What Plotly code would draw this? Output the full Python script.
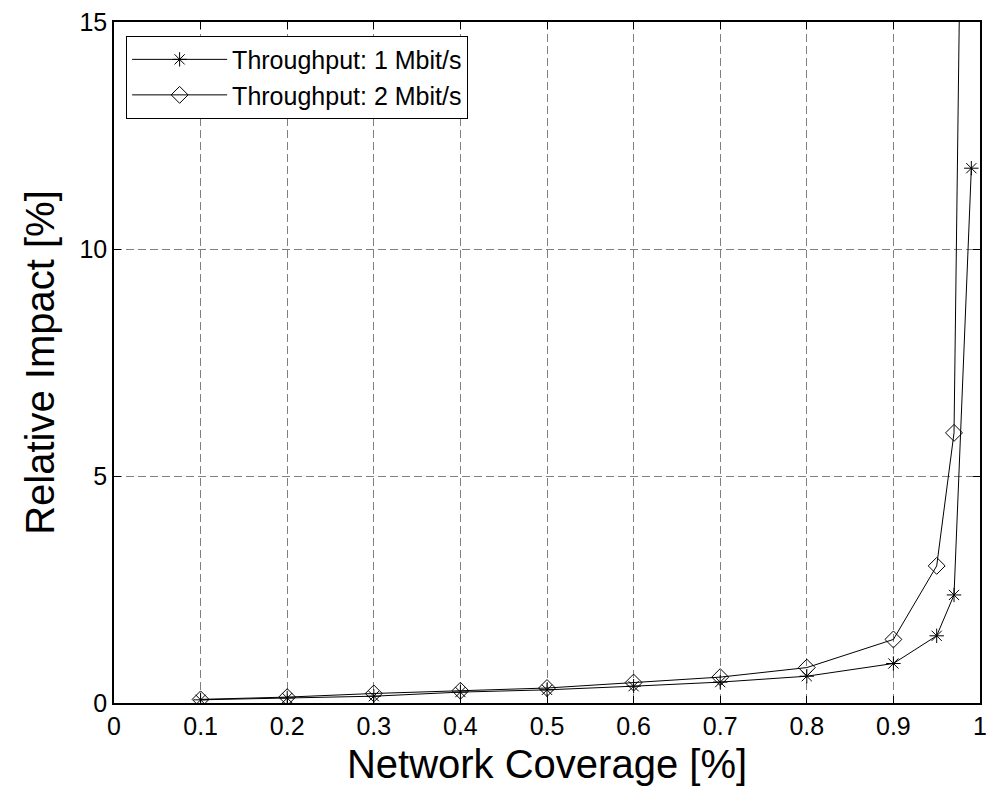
import plotly.graph_objects as go

coverage_1 = [0.1, 0.2, 0.3, 0.4, 0.5, 0.6, 0.7, 0.8, 0.9, 0.95, 0.97, 0.99]
impact_1 = [0.07, 0.11, 0.15, 0.24, 0.29, 0.37, 0.46, 0.59, 0.87, 1.48, 2.38, 11.78]

coverage_2 = [0.1, 0.2, 0.3, 0.4, 0.5, 0.6, 0.7, 0.8, 0.9, 0.95, 0.97, 0.99]
impact_2 = [0.08, 0.13, 0.21, 0.27, 0.33, 0.45, 0.57, 0.78, 1.40, 3.02, 5.95, 36.0]

x_ticks = [0, 0.1, 0.2, 0.3, 0.4, 0.5, 0.6, 0.7, 0.8, 0.9, 1]
x_tick_labels = ["0", "0.1", "0.2", "0.3", "0.4", "0.5", "0.6", "0.7", "0.8", "0.9", "1"]
y_ticks = [0, 5, 10, 15]
y_tick_labels = ["0", "5", "10", "15"]

FONT = "Liberation Sans, Arial, sans-serif"

fig = go.Figure()
fig.add_trace(go.Scatter(
    x=coverage_1, y=impact_1, mode="lines+markers",
    name="Throughput: 1 Mbit/s",
    line=dict(color="black", width=1),
    marker=dict(symbol="asterisk-open", size=12, color="black",
                line=dict(color="black", width=1)),
))
fig.add_trace(go.Scatter(
    x=coverage_2, y=impact_2, mode="lines+markers",
    name="Throughput: 2 Mbit/s",
    line=dict(color="black", width=1),
    marker=dict(symbol="diamond-open", size=13, color="black",
                line=dict(color="black", width=1)),
))

axis_common = dict(
    showline=True, linecolor="black", linewidth=1.5, mirror="ticks",
    ticks="inside", ticklen=7, tickcolor="black", tickwidth=1,
    showgrid=True, gridcolor="#808080", gridwidth=1, griddash="8px,4px",
    zeroline=False, ticklabeloverflow="allow",
    tickfont=dict(family=FONT, size=25, color="black"),
)

fig.update_xaxes(
    range=[0, 1], tickvals=x_ticks, ticktext=x_tick_labels,
    title=dict(text="Network Coverage [%]", font=dict(family=FONT, size=40, color="black"), standoff=11),
    **axis_common,
)
fig.update_yaxes(
    range=[0, 15], tickvals=y_ticks, ticktext=y_tick_labels,
    title=dict(text="Relative Impact [%]", font=dict(family=FONT, size=40, color="black"), standoff=12),
    **axis_common,
)

fig.update_layout(
    width=988, height=791,
    margin=dict(l=114, r=8, t=22, b=88, autoexpand=False),
    paper_bgcolor="white", plot_bgcolor="white",
    font=dict(family=FONT, color="black"),
    showlegend=True,
    legend=dict(
        x=0.014, y=0.98, xanchor="left", yanchor="top",
        bgcolor="white", bordercolor="black", borderwidth=1,
        font=dict(family=FONT, size=25, color="black"),
        itemwidth=95, tracegroupgap=0,
    ),
)

fig.write_html(
    "out.html",
    config={"displayModeBar": False},
    post_script="document.body.style.margin='0px';document.body.style.overflow='hidden';",
)
